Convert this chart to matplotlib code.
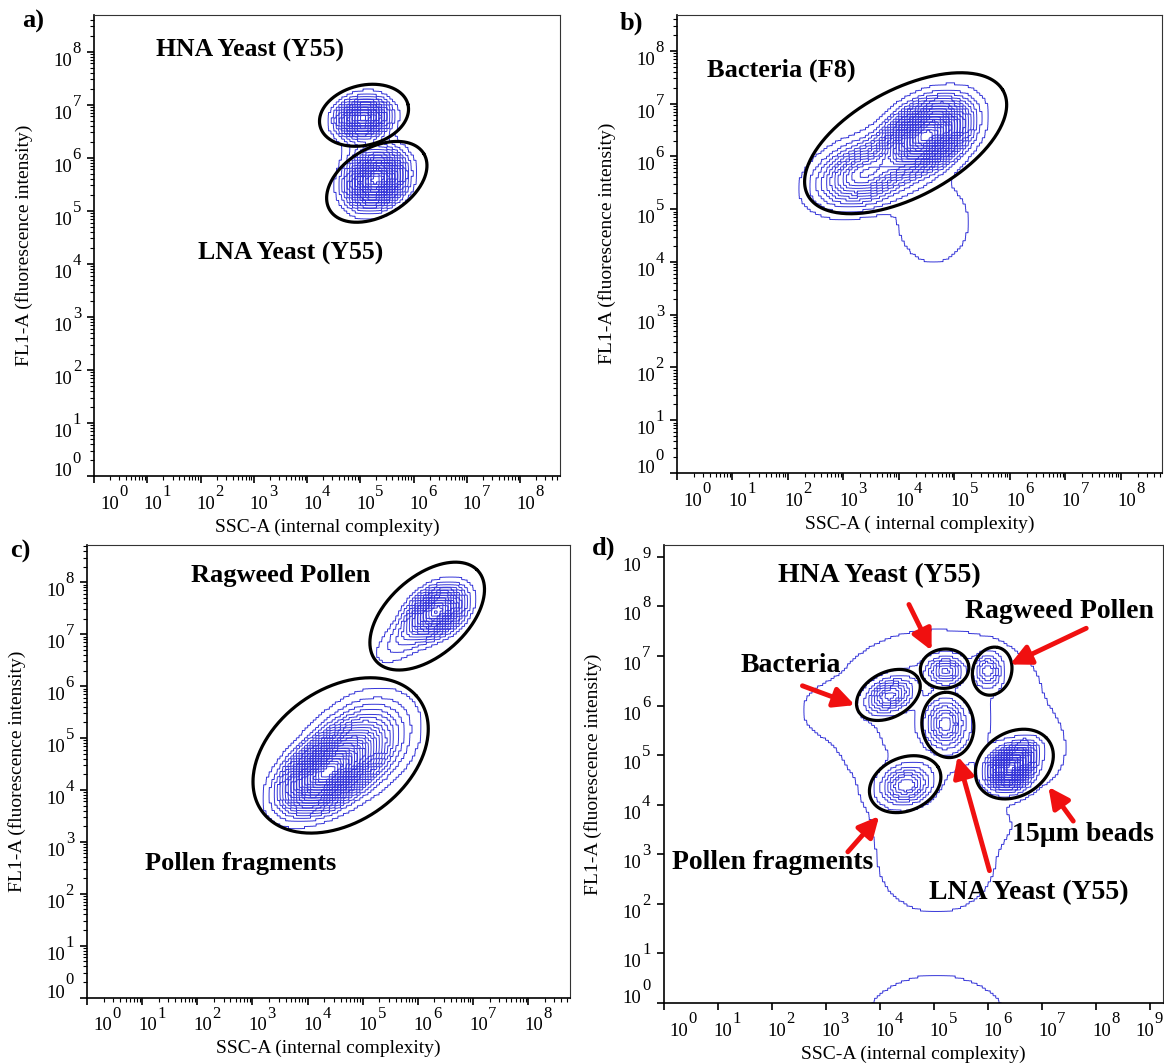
import numpy as np
import matplotlib
matplotlib.use('Agg')
import matplotlib.pyplot as plt

plt.rcParams['font.family'] = ['Liberation Serif', 'DejaVu Serif']

W, H = 1164, 1063

# populations in log10 units: (x centre, y centre, sigma major, sigma minor, angle deg, weight)
pops_a = [(5.05, 6.75, 0.26, 0.185, 10, 0.8),
          (5.30, 5.58, 0.31, 0.25, 35, 1.0),
          (5.15, 6.15, 0.60, 0.30, 90, 0.10)]
pops_b = [(4.50, 6.40, 0.46, 0.30, 35, 1.0),
          (3.35, 5.65, 0.52, 0.33, 22, 0.38),
          (4.62, 4.75, 0.60, 0.50, 90, 0.055)]
pops_c = [(4.30, 4.30, 0.50, 0.30, 40, 1.0),
          (4.95, 4.85, 0.60, 0.42, 45, 0.35),
          (6.35, 7.45, 0.32, 0.22, 40, 0.70),
          (5.85, 7.00, 0.45, 0.20, 40, 0.12)]
pops_d = [(6.40, 4.72, 0.22, 0.19, 45, 1.0),
          (6.62, 4.98, 0.20, 0.15, 45, 0.30),
          (5.22, 6.70, 0.20, 0.165, 0, 0.22),
          (6.00, 6.70, 0.20, 0.15, 90, 0.18),
          (4.18, 6.20, 0.27, 0.18, 30, 0.26),
          (5.22, 5.63, 0.285, 0.21, 90, 0.24),
          (4.48, 4.39, 0.28, 0.22, 20, 0.26),
          (5.00, 5.60, 0.85, 0.80, 0, 0.065),
          (5.30, 6.60, 1.20, 0.60, 0, 0.010),
          (5.05, 2.85, 0.75, 0.80, 90, 0.016),
          (5.30, 3.60, 0.90, 0.30, 0, 0.008),
          (7.00, 5.10, 0.50, 0.35, 90, 0.012),
          (3.00, 5.90, 0.35, 0.35, 0, 0.010),
          (5.05, -0.50, 0.90, 0.70, 0, 0.020)]

# gates: (x centre, y centre, semi-major, semi-minor, angle deg)
gates_a = [(5.07, 6.80, 0.85, 0.564, 14), (5.31, 5.545, 1.03, 0.638, 31)]
gates_b = [(4.12, 6.25, 2.02, 1.01, 30)]
gates_c = [(6.17, 7.35, 1.27, 0.74, 45), (4.60, 4.665, 1.79, 1.25, 40)]
gates_d = [(5.20, 6.745, 0.45, 0.395, 10), (6.08, 6.695, 0.49, 0.36, 78),
           (4.16, 6.215, 0.646, 0.443, 34), (5.26, 5.61, 0.66, 0.48, 95),
           (4.47, 4.415, 0.70, 0.526, 30), (6.49, 4.82, 0.794, 0.62, 42)]

# population names: (text, left x, centre y) in log10 units
labels_a = [('HNA Yeast (Y55)', 1.17, 8.03), ('LNA Yeast (Y55)', 1.96, 4.19)]
labels_b = [('Bacteria (F8)', 0.54, 7.63)]
labels_c = [('Ragweed Pollen', 1.88, 8.13), ('Pollen fragments', 1.06, 2.59)]
labels_d = [('HNA Yeast (Y55)', 2.12, 8.62), ('Ragweed Pollen', 5.58, 7.90),
            ('Bacteria', 1.43, 6.80), ('15µm beads', 6.44, 3.39),
            ('Pollen fragments', 0.15, 2.84), ('LNA Yeast (Y55)', 4.92, 2.22)]

# arrows in panel d: (tail x, tail y, head x, head y) in log10 units
arrows_d = [(4.54, 8.04, 4.96, 7.11), (7.82, 7.56, 6.41, 6.83),
            (2.57, 6.40, 3.54, 6.01), (6.03, 2.67, 5.44, 4.98),
            (7.58, 3.67, 7.12, 4.36), (3.41, 3.05, 3.99, 3.77)]


def density(pops, lx, ly):
    X, Y = np.meshgrid(lx, ly)
    z = np.zeros_like(X)
    for cx, cy, su, sv, ang, w in pops:
        t = np.deg2rad(ang)
        u = (X - cx) * np.cos(t) + (Y - cy) * np.sin(t)
        v = -(X - cx) * np.sin(t) + (Y - cy) * np.cos(t)
        z += w * np.exp(-0.5 * ((u / su) ** 2 + (v / sv) ** 2))
    return z


def draw_contours(ax, pops, xmax, ymax, n, lo, hi, extra=None, step=0.05, k=4):
    # density on a coarse bin grid, blown up block-wise so the lines come out stepped
    nx = int(np.ceil((xmax + 1) / step))
    ny = int(np.ceil((ymax + 1) / step))
    cx = -0.5 + (np.arange(nx) + 0.5) * step
    cy = -0.5 + (np.arange(ny) + 0.5) * step
    z = density(pops, cx, cy)
    zf = np.repeat(np.repeat(z, k, axis=0), k, axis=1)
    fx = -0.5 + (np.arange(nx * k) + 0.5) * step / k
    fy = -0.5 + (np.arange(ny * k) + 0.5) * step / k
    levels = list(np.linspace(lo, hi, n) * z.max())
    if extra is not None:
        levels = [extra * z.max()] + levels
    ax.contour(10 ** fx, 10 ** fy, zf, levels=levels, colors='#3434d8',
               linewidths=0.7)


def draw_gates(ax, gates):
    t = np.linspace(0, 2 * np.pi, 300)
    for cx, cy, a, b, ang in gates:
        r = np.deg2rad(ang)
        u, v = a * np.cos(t), b * np.sin(t)
        x = cx + u * np.cos(r) - v * np.sin(r)
        y = cy + u * np.sin(r) + v * np.cos(r)
        ax.plot(10 ** x, 10 ** y, color='black', lw=2.3, solid_capstyle='round')


def draw_labels(ax, labels, size):
    for text, x, y in labels:
        ax.text(10 ** x, 10 ** y, text, fontsize=size, fontweight='bold',
                ha='left', va='center')


def setup_axes(box, xmax, ymax, nx, ny, xlabel, last_shift=0):
    left, right, top, bottom = box
    ax = fig.add_axes([left / W, 1 - bottom / H, (right - left) / W, (bottom - top) / H])
    ax.set_xscale('log')
    ax.set_yscale('log')
    ax.set_xlim(1, 10 ** xmax)
    ax.set_ylim(1, 10 ** ymax)
    ax.set_xticks([10.0 ** i for i in range(nx + 1)])
    ax.set_yticks([10.0 ** i for i in range(ny + 1)])
    ax.set_xticklabels([])
    ax.set_yticklabels([])
    ax.tick_params(which='major', direction='out', length=5, width=1.2)
    ax.tick_params(which='minor', direction='out', length=2.6, width=0.8)
    for side in ['left', 'bottom']:
        ax.spines[side].set_linewidth(1.2)
    for side in ['top', 'right']:
        ax.spines[side].set_linewidth(0.8)
        ax.spines[side].set_color('#333333')

    # decade labels, written as "10" with a raised exponent
    for i in range(nx + 1):
        dx = 6 if i == 0 else -4
        if i == nx:
            dx += last_shift
        ax.annotate('10', xy=(10.0 ** i, 0), xycoords=('data', 'axes fraction'),
                    xytext=(dx, -33), textcoords='offset pixels',
                    ha='left', va='baseline', fontsize=13.5)
        ax.annotate(str(i), xy=(10.0 ** i, 0), xycoords=('data', 'axes fraction'),
                    xytext=(dx + 19, -20), textcoords='offset pixels',
                    ha='left', va='baseline', fontsize=12)
    for i in range(ny + 1):
        dy = 14 if i == 0 else 0
        ax.annotate('10', xy=(0, 10.0 ** i), xycoords=('axes fraction', 'data'),
                    xytext=(-22, -14 + dy), textcoords='offset pixels',
                    ha='right', va='baseline', fontsize=13.5)
        ax.annotate(str(i), xy=(0, 10.0 ** i), xycoords=('axes fraction', 'data'),
                    xytext=(-13, -1 + dy), textcoords='offset pixels',
                    ha='right', va='baseline', fontsize=12)

    ax.annotate(xlabel, xy=(0.5, 0), xycoords='axes fraction', xytext=(0, -51),
                textcoords='offset pixels', ha='center', va='center', fontsize=14)
    ax.annotate('FL1-A (fluorescence intensity)', xy=(0, 0.5), xycoords='axes fraction',
                xytext=(-70, 0), textcoords='offset pixels', ha='center', va='center',
                rotation=90, fontsize=14)
    return ax


fig = plt.figure(figsize=(W / 100, H / 100), dpi=100)

# a) yeast only
ax = setup_axes((94, 560, 15, 476), 8.75, 8.69, 8, 8, 'SSC-A (internal complexity)')
draw_contours(ax, pops_a, 8.75, 8.69, 28, 0.03, 0.97)
draw_gates(ax, gates_a)
draw_labels(ax, labels_a, 18.5)

# b) bacteria only
ax = setup_axes((677, 1162, 14.5, 473), 8.74, 8.69, 8, 8, 'SSC-A ( internal complexity)')
draw_contours(ax, pops_b, 8.74, 8.69, 30, 0.025, 0.97)
draw_gates(ax, gates_b)
draw_labels(ax, labels_b, 19)

# c) ragweed pollen
ax = setup_axes((87, 570, 545, 997.5), 8.76, 8.72, 8, 8, 'SSC-A (internal complexity)')
draw_contours(ax, pops_c, 8.76, 8.72, 30, 0.03, 0.97)
draw_gates(ax, gates_c)
draw_labels(ax, labels_c, 19)

# d) mixed sample
ax = setup_axes((663.5, 1163, 545, 1003), 9.24, 9.24, 9, 9, 'SSC-A (internal complexity)',
                last_shift=-11)
draw_contours(ax, pops_d, 9.24, 9.24, 30, 0.03, 0.97, extra=0.006)
draw_gates(ax, gates_d)
draw_labels(ax, labels_d, 20)
for x0, y0, x1, y1 in arrows_d:
    ax.annotate('', xy=(10 ** x1, 10 ** y1), xytext=(10 ** x0, 10 ** y0),
                arrowprops=dict(arrowstyle='-|>,head_length=0.65,head_width=0.32',
                                color='#f01010', lw=3.5, mutation_scale=19,
                                shrinkA=0, shrinkB=0))

for letter, x, y in [('a)', 22, 10), ('b)', 620, 12), ('c)', 10, 540), ('d)', 592, 537)]:
    fig.text(x / W, 1 - y / H, letter, fontsize=19, fontweight='bold', ha='left', va='top')

fig.savefig('out.png', dpi=100)
